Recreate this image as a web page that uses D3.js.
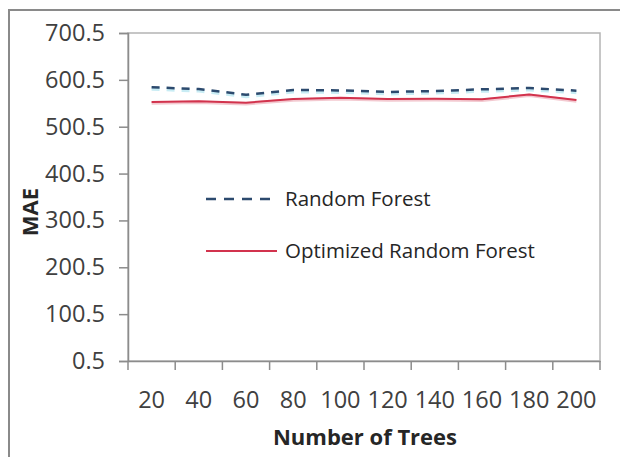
<!DOCTYPE html>
<html><head><meta charset="utf-8">
<script src="https://cdn.jsdelivr.net/npm/d3@7"></script>
<style>body{margin:0;background:#fff}svg{display:block}</style>
</head><body>
<svg id="chart" width="620" height="457"></svg>
<script>
const categories = ["20","40","60","80","100","120","140","160","180","200"];
const randomForest = [584.6, 581.0, 568.8, 578.9, 578.0, 574.6, 576.7, 580.3, 583.1, 577.4];
const optimizedRF = [553.2, 554.7, 551.8, 559.6, 562.5, 559.6, 560.3, 558.9, 569.5, 557.5];
const yTicks = [0.5, 100.5, 200.5, 300.5, 400.5, 500.5, 600.5, 700.5];
const seriesNames = ["Random Forest", "Optimized Random Forest"];

const svg = d3.select("#chart");
const FONT = "'Open Sans', sans-serif";
const m = {left:128, right:600, top:33, bottom:361};

// outer border
svg.append("rect").attr("x",9).attr("y",10).attr("width",640).attr("height",480)
  .attr("fill","#fff").attr("stroke","#8a8a8a").attr("stroke-width",2);

const x = d3.scaleBand().domain(categories).range([m.left, m.right]);
const y = d3.scaleLinear().domain([0.5, 700.5]).range([m.bottom, m.top]);

// plot area border
svg.append("rect").attr("x",m.left).attr("y",m.top).attr("width",m.right-m.left).attr("height",m.bottom-m.top)
  .attr("fill","#fff").attr("stroke","#b4b4b4").attr("stroke-width",1.5);

// y axis
const yAxis = svg.append("g").attr("transform",`translate(${m.left},0)`)
  .call(d3.axisLeft(y).tickValues(yTicks).tickFormat(d3.format(".1f")).tickSize(9).tickPadding(14));
yAxis.select(".domain").attr("stroke","#8c8c8c").attr("stroke-width",1.5);
yAxis.selectAll(".tick line").attr("stroke","#8c8c8c").attr("stroke-width",1.5);
yAxis.selectAll("text").attr("font-family",FONT).attr("font-size","23.5px").attr("fill","#404040");

// x axis (ticks between categories)
const xAxis = svg.append("g").attr("transform",`translate(0,${m.bottom})`)
  .call(d3.axisBottom(x).tickSize(0).tickPadding(30));
xAxis.select(".domain").attr("stroke","#8c8c8c").attr("stroke-width",1.5);
xAxis.selectAll("text").attr("font-family",FONT).attr("font-size","23.5px").attr("fill","#404040");
const bounds = categories.map(c => x(c)).concat([x(categories[categories.length-1]) + x.bandwidth()]);
svg.append("g").selectAll("line").data(bounds).join("line")
  .attr("x1",d=>d).attr("x2",d=>d).attr("y1",m.bottom).attr("y2",m.bottom+9)
  .attr("stroke","#8c8c8c").attr("stroke-width",1.5);

// lines
const line = d3.line().x((d,i)=>x(categories[i]) + x.bandwidth()/2).y(d=>y(d));
svg.append("path").datum(randomForest).attr("d",line).attr("fill","none")
  .attr("stroke","#c8ecf4").attr("stroke-width",4).attr("stroke-dasharray","8,7").attr("transform","translate(0,1.5)");
svg.append("path").datum(randomForest).attr("d",line).attr("fill","none")
  .attr("stroke","#2c4a6e").attr("stroke-width",2.5).attr("stroke-dasharray","8,7");
svg.append("path").datum(optimizedRF).attr("d",line).attr("fill","none")
  .attr("stroke","#f3c9d0").attr("stroke-width",3.5).attr("transform","translate(0,1)");
svg.append("path").datum(optimizedRF).attr("d",line).attr("fill","none")
  .attr("stroke","#d2334d").attr("stroke-width",2);

// legend
const lg = svg.append("g");
lg.append("line").attr("x1",206).attr("x2",272).attr("y1",199).attr("y2",199)
  .attr("stroke","#2c4a6e").attr("stroke-width",2.5).attr("stroke-dasharray","10,8");
lg.append("text").attr("x",285).attr("y",199).attr("dy","0.35em").text(seriesNames[0])
  .attr("font-family",FONT).attr("font-size","20.5px").attr("fill","#262626");
lg.append("line").attr("x1",206).attr("x2",277).attr("y1",251).attr("y2",251)
  .attr("stroke","#d2334d").attr("stroke-width",2);
lg.append("text").attr("x",285).attr("y",251).attr("dy","0.35em").text(seriesNames[1])
  .attr("font-family",FONT).attr("font-size","20.5px").attr("fill","#262626");

// axis titles
svg.append("text").attr("x",365).attr("y",437).attr("dy","0.35em").attr("text-anchor","middle")
  .attr("font-family",FONT).attr("font-weight","bold").attr("font-size","22px").attr("fill","#262626")
  .text("Number of Trees");
svg.append("text").attr("transform","translate(30,212) rotate(-90)").attr("dy","0.35em").attr("text-anchor","middle")
  .attr("font-family",FONT).attr("font-weight","bold").attr("font-size","22px").attr("fill","#262626")
  .text("MAE");
</script>
</body></html>
